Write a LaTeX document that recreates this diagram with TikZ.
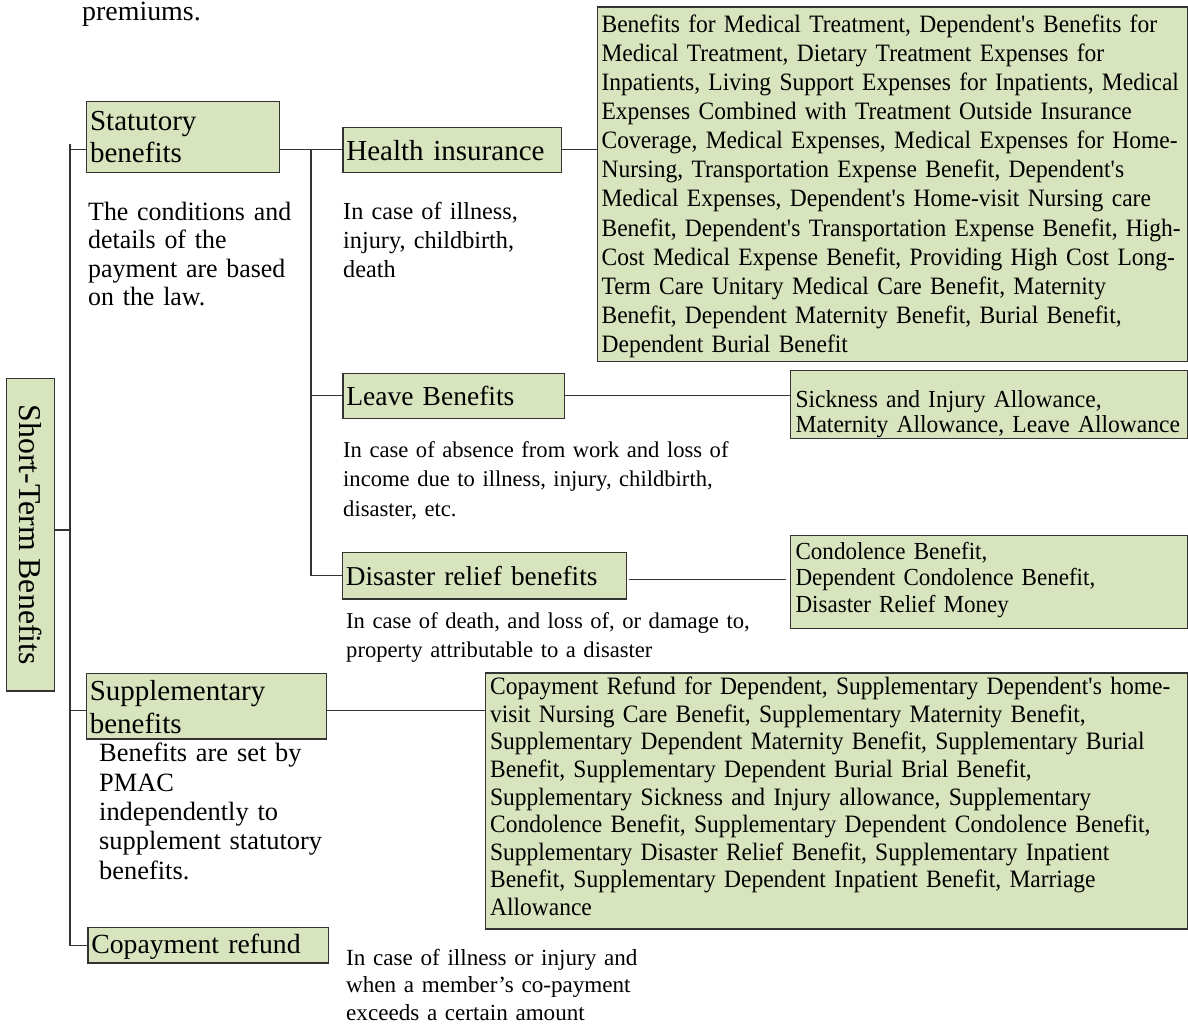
\documentclass[tikz,border=0pt]{standalone}
\usepackage{fontspec}
\setmainfont{Liberation Serif}
\newcommand{\myq}{\textquotesingle}
\newcommand{\fs}[3]{\fontsize{#1}{#2}\selectfont\addfontfeatures{FakeStretch=#3}}
\definecolor{boxfill}{HTML}{D7E4BD}
\definecolor{boxline}{HTML}{333333}
\definecolor{connline}{HTML}{333333}
\begin{document}
\begin{tikzpicture}[x=1pt,y=-1pt,
  gbox/.style={draw=boxline, fill=boxfill, line width=1.2pt, anchor=north west,
    inner ysep=0pt, align=left},
  head/.style={gbox, inner xsep=3.5pt, font=\fontsize{29}{32}\selectfont},
  lst/.style={gbox, inner xsep=4pt},
  desc/.style={anchor=base west, inner sep=0pt, align=left, text width=460pt},
  conn/.style={draw=connline, line width=1.2pt}]
\fill[white] (0,0) rectangle (1188,1025);
\useasboundingbox (0,0) rectangle (1188,1025);

% top fragment
\node[desc, font=\fontsize{27.9}{30}\selectfont] (prem) at (82,21) {premiums.};

% root
\node[draw=boxline, fill=boxfill, line width=1.2pt, rotate=-90, inner sep=0pt,
  minimum width=312.7pt, minimum height=47.6pt, font=\fontsize{31.8}{34}\selectfont]
  (st) at (30.5,534.7) {Short-Term Benefits};

% level 1
\node[head, text width=186pt, text height=29pt, text depth=42pt] (sb) at (86,101)
  {Statutory\\benefits};
\node[head, text width=233pt, text height=27.3pt, text depth=38.3pt,
  font=\fontsize{29}{32.7}\selectfont] (sp) at (85.7,672.7) {Supplementary\\benefits};
\node[head, text width=233.4pt, text height=26.6pt, text depth=9pt,
  font=\fontsize{27.7}{32}\selectfont] (cr) at (87.3,926.7) {Copayment refund};

% level 2
\node[head, text width=211.4pt, text height=33.3pt, text depth=11.7pt] (hi) at (342.3,126.7)
  {Health insurance};
\node[head, text width=214.7pt, text height=32.3pt, text depth=12.7pt,
  font=\fontsize{27.5}{32}\selectfont] (lb) at (342.3,372.7) {Leave Benefits};
\node[head, text width=277.3pt, text height=33.3pt, text depth=13.3pt,
  font=\fontsize{27.3}{32}\selectfont] (dr) at (341.7,551.7) {Disaster relief benefits};

% lists
\node[lst, text width=582pt, text height=25.2pt, text depth=329.3pt,
  font=\fs{25}{29.1}{0.94}] (hl) at (597,6.5)
  {Benefits for Medical Treatment, Dependent\myq s Benefits for\\
   Medical Treatment, Dietary Treatment Expenses for\\
   Inpatients, Living Support Expenses for Inpatients, Medical\\
   Expenses Combined with Treatment Outside Insurance\\
   Coverage, Medical Expenses, Medical Expenses for Home-\\
   Nursing, Transportation Expense Benefit, Dependent\myq s\\
   Medical Expenses, Dependent\myq s Home-visit Nursing care\\
   Benefit, Dependent\myq s Transportation Expense Benefit, High-\\
   Cost Medical Expense Benefit, Providing High Cost Long-\\
   Term Care Unitary Medical Care Benefit, Maternity\\
   Benefit, Dependent Maternity Benefit, Burial Benefit,\\
   Dependent Burial Benefit};
\node[lst, inner xsep=5pt, text width=387pt, text height=36.7pt, text depth=31.3pt,
  font=\fs{24.5}{25}{0.96}] (sk) at (790,370)
  {Sickness and Injury Allowance,\\Maternity Allowance, Leave Allowance};
\node[lst, inner xsep=5pt, text width=387pt, text height=23.5pt, text depth=69.5pt,
  font=\fs{24.5}{26.5}{0.94}] (cd) at (790,535)
  {Condolence Benefit,\\Dependent Condolence Benefit,\\Disaster Relief Money};
\node[lst, inner xsep=4.5pt, text width=693pt, text height=21.7pt, text depth=234.3pt,
  font=\fs{25}{27.6}{0.94}] (sl) at (485,672.3)
  {Copayment Refund for Dependent, Supplementary Dependent\myq s home-\\
   visit Nursing Care Benefit, Supplementary Maternity Benefit,\\
   Supplementary Dependent Maternity Benefit, Supplementary Burial\\
   Benefit, Supplementary Dependent Burial Brial Benefit,\\
   Supplementary Sickness and Injury allowance, Supplementary\\
   Condolence Benefit, Supplementary Dependent Condolence Benefit,\\
   Supplementary Disaster Relief Benefit, Supplementary Inpatient\\
   Benefit, Supplementary Dependent Inpatient Benefit, Marriage\\
   Allowance};

% descriptions
\node[desc, font=\fs{26.4}{28.5}{0.98}] (sbd) at (88,220)
  {The conditions and\\details of the\\payment are based\\on the law.};
\node[desc, font=\fs{24.5}{29}{0.99}] (hid) at (343,219)
  {In case of illness,\\injury, childbirth,\\death};
\node[desc, font=\fontsize{22.6}{29.2}\selectfont] (lbd) at (343,457.7)
  {In case of absence from work and loss of\\income due to illness, injury, childbirth,\\disaster, etc.};
\node[desc, font=\fontsize{22.6}{29}\selectfont] (drd) at (346,628)
  {In case of death, and loss of, or damage to,\\property attributable to a disaster};
\node[desc, font=\fontsize{26.4}{29.4}\selectfont] (spd) at (99,761.7)
  {Benefits are set by\\PMAC\\independently to\\supplement statutory\\benefits.};
\node[desc, font=\fontsize{23.1}{27.5}\selectfont] (crd) at (346,965)
  {In case of illness or injury and\\when a member’s co-payment\\exceeds a certain amount};

% connectors
\coordinate (spT) at (70,144);
\coordinate (isx) at (311,149);
\coordinate (r1) at ([yshift=4.7pt]st.north);
\draw[conn] (r1) -- (r1 -| spT);
\draw[conn] (spT) |- (cr.west);
\draw[conn] (spT |- hi.west) -- (sb.west |- hi.west);
\draw[conn] (sb.east |- hi.west) -- (hi.west);
\draw[conn] (isx) |- (dr.west);
\draw[conn] (isx |- lb.west) -- (lb.west);
\draw[conn] (hi.east) -- (hi.east -| hl.west);
\draw[conn] (lb.east) -- (lb.east -| sk.west);
\coordinate (d1) at ([xshift=2pt,yshift=-4pt]dr.east);
\coordinate (d2) at (d1 -| cd.west);
\draw[conn] (d1) -- ([xshift=-4pt]d2);
\coordinate (s1) at ([yshift=-4pt]sp.west);
\coordinate (s2) at ([yshift=-4pt]sp.east);
\draw[conn] (spT |- s1) -- (s1);
\draw[conn] (s2) -- (s2 -| sl.west);
\end{tikzpicture}
\end{document}
